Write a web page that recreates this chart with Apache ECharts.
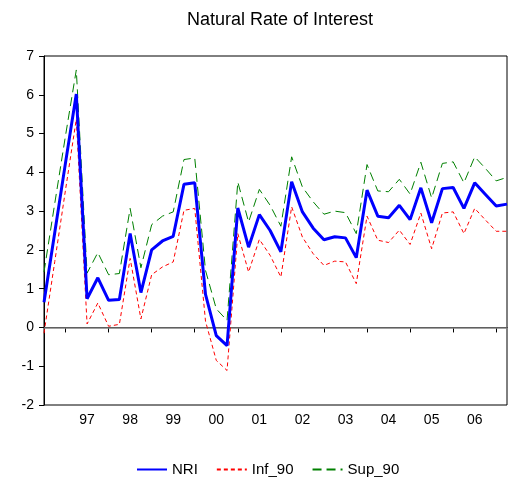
<!DOCTYPE html>
<html>
<head>
<meta charset="utf-8">
<script src="https://cdn.jsdelivr.net/npm/echarts@6/dist/echarts.min.js"></script>
<style>
html,body{margin:0;padding:0;background:#fff;}
#chart{width:512px;height:481px;}
</style>
</head>
<body>
<div id="chart"></div>
<script>
const categories = [
  '1996Q3','1996Q4',
  '1997Q1','1997Q2','1997Q3','1997Q4',
  '1998Q1','1998Q2','1998Q3','1998Q4',
  '1999Q1','1999Q2','1999Q3','1999Q4',
  '2000Q1','2000Q2','2000Q3','2000Q4',
  '2001Q1','2001Q2','2001Q3','2001Q4',
  '2002Q1','2002Q2','2002Q3','2002Q4',
  '2003Q1','2003Q2','2003Q3','2003Q4',
  '2004Q1','2004Q2','2004Q3','2004Q4',
  '2005Q1','2005Q2','2005Q3','2005Q4',
  '2006Q1','2006Q2','2006Q3','2006Q4',
  '2007Q1','2007Q2'
];
const nri = [0.65, 2.45, 4.25, 6.02, 0.74, 1.28, 0.70, 0.72, 2.42, 0.90, 2.00, 2.23, 2.35, 3.69, 3.73, 0.85, -0.21, -0.47, 3.08, 2.07, 2.91, 2.50, 1.95, 3.76, 2.98, 2.56, 2.26, 2.34, 2.31, 1.80, 3.54, 2.87, 2.83, 3.15, 2.78, 3.60, 2.70, 3.58, 3.61, 3.07, 3.73, 3.43, 3.13, 3.18];
const inf90 = [-0.15, 1.70, 3.55, 5.37, 0.09, 0.63, 0.03, 0.08, 1.78, 0.22, 1.36, 1.56, 1.69, 3.02, 3.07, 0.16, -0.85, -1.11, 2.42, 1.43, 2.27, 1.86, 1.30, 3.11, 2.33, 1.90, 1.60, 1.71, 1.69, 1.13, 2.87, 2.25, 2.19, 2.51, 2.14, 2.95, 2.03, 2.95, 2.98, 2.42, 3.07, 2.77, 2.48, 2.48];
const sup90 = [1.43, 3.20, 4.95, 6.64, 1.40, 1.93, 1.36, 1.39, 3.07, 1.54, 2.65, 2.87, 2.98, 4.33, 4.37, 1.47, 0.48, 0.18, 3.75, 2.72, 3.56, 3.15, 2.61, 4.40, 3.62, 3.24, 2.92, 3.00, 2.96, 2.42, 4.20, 3.52, 3.50, 3.82, 3.44, 4.26, 3.34, 4.23, 4.27, 3.73, 4.40, 4.10, 3.78, 3.87];
const yearLabels = ['97','98','99','00','01','02','03','04','05','06'];
const yTicks = {min: -2, max: 7, interval: 1};

const FONT = 'Liberation Sans, Arial, sans-serif';
const chart = echarts.init(document.getElementById('chart'), null, {renderer: 'canvas'});
chart.setOption({
  animation: false,
  backgroundColor: '#fff',
  title: {
    text: 'Natural Rate of Interest',
    left: 275, top: 6, textAlign: 'center',
    textStyle: {fontFamily: FONT, fontSize: 18, fontWeight: 'normal', color: '#000'}
  },
  legend: {
    left: 131, top: 457,
    itemWidth: 30, itemHeight: 14, itemGap: 18,
    itemStyle: {opacity: 0},
    textStyle: {fontFamily: FONT, fontSize: 15, color: '#000'},
    data: ['NRI', 'Inf_90', 'Sup_90']
  },
  grid: {left: 44, right: 5, top: 56, bottom: 76, show: true, borderColor: '#000', borderWidth: 1, containLabel: false},
  xAxis: {
    type: 'category',
    data: categories,
    boundaryGap: false,
    axisLine: {show: true, lineStyle: {color: '#000', width: 1}},
    axisTick: {show: true, length: 5, lineStyle: {color: '#000'}, interval: function (i) { return i % 4 === 2; }},
    axisLabel: {
      color: '#000', fontFamily: FONT, fontSize: 14, margin: 8,
      interval: function (i) { return i % 4 === 0 && i >= 4 && i <= 40; },
      formatter: function (v, i) { return yearLabels[i / 4 - 1] || ''; }
    },
    splitLine: {show: false}
  },
  yAxis: {
    type: 'value',
    min: yTicks.min, max: yTicks.max, interval: yTicks.interval,
    axisLine: {show: true, lineStyle: {color: '#000', width: 1}},
    axisTick: {show: true, length: 5, lineStyle: {color: '#000'}},
    axisLabel: {color: '#000', fontFamily: FONT, fontSize: 14, margin: 10},
    splitLine: {show: false}
  },
  series: [
    {
      name: 'NRI', type: 'line', data: nri, symbol: 'none', z: 4,
      lineStyle: {color: '#0000ff', width: 3}, itemStyle: {color: '#0000ff'},
      markLine: {
        silent: true, symbol: 'none', label: {show: false}, z: 1,
        lineStyle: {color: '#808080', width: 1.5, type: 'solid'},
        data: [{yAxis: 0}]
      }
    },
    {
      name: 'Inf_90', type: 'line', data: inf90, symbol: 'none', z: 3,
      lineStyle: {color: '#ff0000', width: 1, type: [4, 3]}, itemStyle: {color: '#ff0000'}
    },
    {
      name: 'Sup_90', type: 'line', data: sup90, symbol: 'none', z: 3,
      lineStyle: {color: '#008000', width: 1, type: [9, 5]}, itemStyle: {color: '#008000'}
    }
  ]
});
</script>
</body>
</html>
